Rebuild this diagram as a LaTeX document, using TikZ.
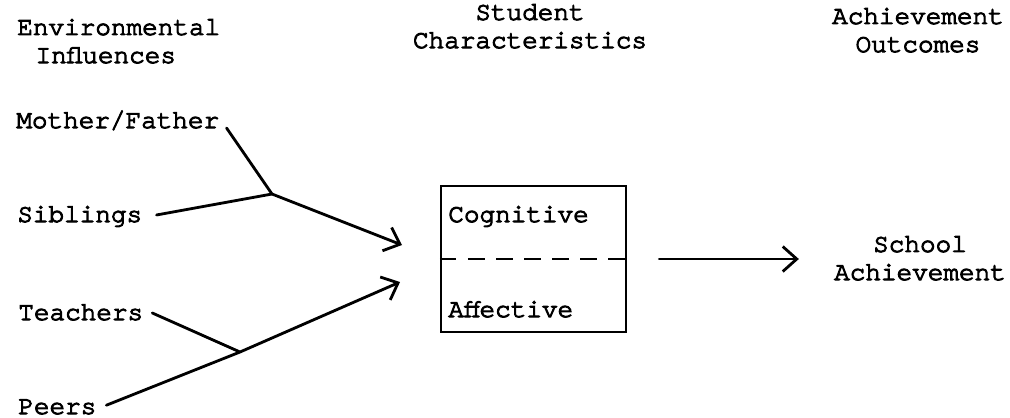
\documentclass[tikz,border=0pt]{standalone}
\usepackage{fontspec}
\newfontfamily\typefont[FakeBold=4]{TeX Gyre Cursor}
\usetikzlibrary{arrows.meta}

\tikzset{
    label/.style={font=\typefont\fontsize{14.8}{16}\selectfont, inner sep=0pt, anchor=base west},
    heading/.style={label, align=center, anchor=base},
    link/.style={line width=1.6pt, line cap=round},
    barb/.style={link, -{Straight Barb[length=0.28cm, width=0.5cm, line width=1.6pt]}}
}

\begin{document}
\begin{tikzpicture}[x=0.02cm, y=-0.02cm]
    \useasboundingbox (0,0) rectangle (1010,417);

    % Column headings (anchored on their last line)
    \node[label, align=left] (envhead) at (17,63) {Environmental\\\hspace*{0.7em}Influences};
    \node[heading] (stuhead) at (530,48) {Student\\Characteristics};
    \node[heading] (achhead) at (918,52) {Achievement\\Outcomes};

    % Environmental influences
    \node[label] (mother) at (16,128) {Mother/Father};
    \node[label] (siblings) at (17,222) {Siblings};
    \node[label] (teachers) at (18,320) {Teachers};
    \node[label] (peers) at (18,414) {Peers};

    % Student characteristics box
    \node[draw, line width=1.4pt, minimum width=3.7cm, minimum height=2.92cm] (chars) at (533.5,259) {};
    \draw[line width=1.3pt, dash pattern=on 9.5pt off 6.5pt] (chars.west) -- (chars.east);
    \node[label] (cognitive) at (448,222) {Cognitive};
    \node[label] (affective) at (448,317) {Affective};

    % Outcome
    \node[heading] (school) at (920,280) {School\\Achievement};

    % Branch points and arrow ends
    \coordinate (home) at (272,194);
    \coordinate (class) at (240,352);
    \coordinate (cogend) at (402,245);
    \coordinate (affend) at (400,282);

    % Connectors
    \draw[link] ([xshift=4pt]mother.base east) -- (home);
    \draw[link] ([xshift=8pt, yshift=4pt]siblings.base east) -- (home);
    \draw[barb] (home) -- (cogend);
    \draw[link] ([xshift=5pt, yshift=4pt]teachers.base east) -- (class);
    \draw[barb] ([xshift=5.5pt, yshift=5pt]peers.base east) -- (class) -- (affend);
    \draw[barb, shorten <=0.64cm, shorten >=0.7cm] (chars.east) -- (chars.east -| school.west);

\end{tikzpicture}
\end{document}
